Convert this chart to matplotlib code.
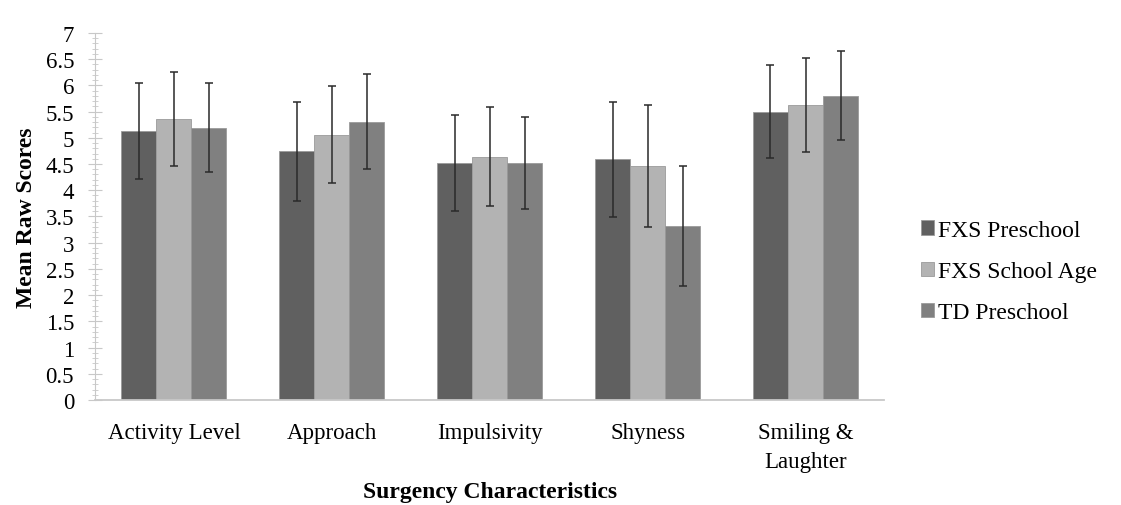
import matplotlib
matplotlib.use("Agg")
import matplotlib.pyplot as plt
import numpy as np
from matplotlib.ticker import MultipleLocator

categories = ["Activity Level", "Approach", "Impulsivity", "Shyness", "Smiling &\nLaughter"]
groups = ["FXS Preschool", "FXS School Age", "TD Preschool"]
fxs_pre = [5.13, 4.74, 4.52, 4.59, 5.50]
fxs_school = [5.36, 5.06, 4.64, 4.46, 5.63]
td_pre = [5.19, 5.31, 4.52, 3.32, 5.80]
fxs_pre_err = [0.92, 0.95, 0.92, 1.1, 0.89]
fxs_school_err = [0.9, 0.92, 0.95, 1.17, 0.9]
td_pre_err = [0.85, 0.9, 0.87, 1.14, 0.85]

colors = ["#606060", "#b3b3b3", "#808080"]

plt.rcParams['font.family'] = ['Liberation Serif', 'DejaVu Serif']

fig = plt.figure(figsize=(11.21, 5.06), dpi=100)
ax = fig.add_axes([0.0847, 0.2075, 0.7043, 0.7255])

x = np.arange(len(categories))
w = 0.222
series = [fxs_pre, fxs_school, td_pre]
errs = [fxs_pre_err, fxs_school_err, td_pre_err]
for i in range(3):
    ax.bar(x + (i - 1) * w, series[i], w, color=colors[i], edgecolor="#9a9a9a",
           linewidth=0.6, label=groups[i],
           yerr=errs[i], capsize=3,
           error_kw=dict(ecolor="#2a2a2a", elinewidth=1.1, capthick=1.1))

ax.set_xlim(-0.5, 4.5)
ax.set_ylim(0, 7)
ax.set_yticks(np.arange(0, 7.01, 0.5))
ax.set_yticklabels([("%g" % v) for v in np.arange(0, 7.01, 0.5)])
ax.yaxis.set_minor_locator(MultipleLocator(0.1))
ax.set_xticks(x)
ax.set_xticklabels(categories, fontsize=16.5, linespacing=1.5)

for s in ["top", "right"]:
    ax.spines[s].set_visible(False)
ax.spines["left"].set_color("#c8c8c8")
ax.spines["bottom"].set_color("#c8c8c8")
ax.spines["bottom"].set_linewidth(1.3)
ax.tick_params(axis="y", which="major", direction="inout", length=10, color="#c8c8c8", labelsize=16.5, pad=10)
ax.tick_params(axis="y", which="minor", direction="inout", length=5, color="#c8c8c8")
ax.tick_params(axis="x", length=0, pad=16)

ax.set_ylabel("Mean Raw Scores", fontsize=17, fontweight="bold", labelpad=6)
ax.set_xlabel("Surgency Characteristics", fontsize=17, fontweight="bold", va="center")
ax.xaxis.set_label_coords(0.5, -0.248)

ax.legend(loc="center left", bbox_to_anchor=(1.019, 0.35), frameon=False, fontsize=17,
          handlelength=0.55, handleheight=0.55, handletextpad=0.2, labelspacing=0.85)

fig.savefig("out.png", dpi=100)
